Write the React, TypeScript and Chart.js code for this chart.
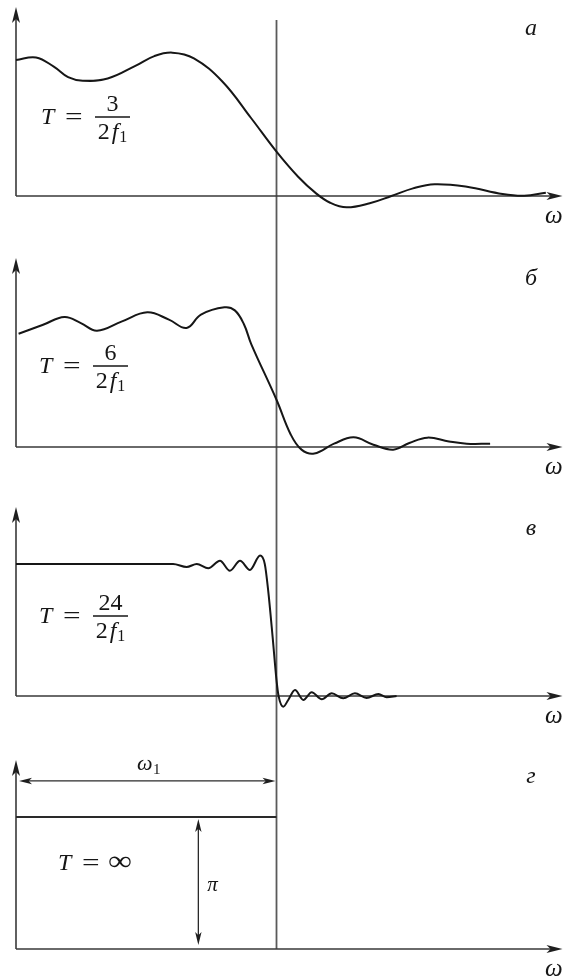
import React, { useEffect, useRef } from 'react';
import { Chart, registerables } from 'chart.js';

Chart.register(...registerables);

// ---- data (x in units of ω1, y in units of the ideal level π) ----
const panelLetters = ['а', 'б', 'в', 'г'];
const numerators = ['3', '6', '24', ''];

const omegaA = [0, 0.077, 0.145, 0.2, 0.256, 0.352, 0.462, 0.531, 0.6, 0.683, 0.793, 0.903, 1.0, 1.083, 1.152, 1.206, 1.269, 1.358, 1.441, 1.524, 1.607, 1.731, 1.868, 1.951, 2.034];
const ampA = [1.03, 1.05, 0.98, 0.9, 0.873, 0.89, 0.99, 1.06, 1.086, 1.043, 0.866, 0.589, 0.336, 0.146, 0.02, -0.051, -0.086, -0.055, 0, 0.058, 0.089, 0.07, 0.015, 0.002, 0.025];

const omegaB = [0.01, 0.104, 0.186, 0.249, 0.311, 0.407, 0.504, 0.587, 0.655, 0.71, 0.8, 0.84, 0.875, 0.903, 1.0, 1.055, 1.096, 1.145, 1.221, 1.296, 1.372, 1.448, 1.51, 1.579, 1.662, 1.73, 1.82];
const ampB = [0.858, 0.926, 0.985, 0.939, 0.881, 0.952, 1.02, 0.965, 0.902, 1.003, 1.058, 1.035, 0.93, 0.78, 0.358, 0.093, -0.02, -0.05, 0.025, 0.073, 0.017, -0.02, 0.03, 0.071, 0.042, 0.025, 0.025];

const omegaV = [0, 0.603, 0.655, 0.694, 0.738, 0.783, 0.821, 0.86, 0.898, 0.937, 0.955, 0.968, 0.985, 1.0, 1.008, 1.026, 1.045, 1.071, 1.103, 1.135, 1.174, 1.212, 1.256, 1.301, 1.346, 1.391, 1.423, 1.461];
const ampV = [1.0, 1.0, 0.977, 1.0, 0.967, 1.025, 0.949, 1.025, 0.955, 1.064, 1.0, 0.8, 0.45, 0.12, 0, -0.081, -0.03, 0.045, -0.03, 0.028, -0.025, 0.02, -0.017, 0.02, -0.015, 0.015, -0.01, 0];

const omegaG = [0, 1];
const ampG = [1, 1];

const CUTOFF = 1; // ω1
const PI_ARROW_OMEGA = 0.7;
const OMEGA1_ARROW_LEVEL = 1.273;
const AXIS_TOP = 1.432;

// ---- layout ----
const W = 563;
const PX_X = 260.5;
const PX_Y = 132;
const X0 = 16;
const FONT = '"Liberation Serif", "Times New Roman", serif';
const INK = '#161616';

type Panel = {
  xs: number[];
  ys: number[];
  letter: string;
  num: string;
  height: number;
  axisY: number;
  bar: number;
  tLeft: number;
  vTop: number;
  last: boolean;
  smooth: 'tension' | 'monotone';
};

const panels: Panel[] = [
  { xs: omegaA, ys: ampA, letter: panelLetters[0], num: numerators[0], height: 250, axisY: 196, bar: 117, tLeft: 41, vTop: 20, last: false, smooth: 'tension' },
  { xs: omegaB, ys: ampB, letter: panelLetters[1], num: numerators[1], height: 250, axisY: 197, bar: 116, tLeft: 39, vTop: 0, last: false, smooth: 'tension' },
  { xs: omegaV, ys: ampV, letter: panelLetters[2], num: numerators[2], height: 250, axisY: 196, bar: 116, tLeft: 39, vTop: 0, last: false, smooth: 'monotone' },
  { xs: omegaG, ys: ampG, letter: panelLetters[3], num: numerators[3], height: 227, axisY: 199, bar: 113, tLeft: 58, vTop: 0, last: true, smooth: 'monotone' },
];

function arrowHead(ctx: CanvasRenderingContext2D, tx: number, ty: number, dx: number, dy: number, len: number, half: number) {
  const bx = tx - dx * len;
  const by = ty - dy * len;
  const px = -dy;
  const py = dx;
  ctx.beginPath();
  ctx.moveTo(tx, ty);
  ctx.lineTo(bx + px * half, by + py * half);
  ctx.lineTo(tx - dx * len * 0.75, ty - dy * len * 0.75);
  ctx.lineTo(bx - px * half, by - py * half);
  ctx.closePath();
  ctx.fill();
}

function scaledText(ctx: CanvasRenderingContext2D, text: string, x: number, y: number, sx: number) {
  ctx.save();
  ctx.translate(x, y);
  ctx.scale(sx, 1);
  ctx.fillText(text, 0, 0);
  ctx.restore();
}

function decor(p: Panel) {
  return {
    id: 'decor',
    beforeDatasetsDraw(chart: any) {
      const ctx: CanvasRenderingContext2D = chart.ctx;
      const xs = chart.scales.x;
      const ys = chart.scales.y;
      const ox = xs.getPixelForValue(0);
      const oy = ys.getPixelForValue(0);
      const cx = xs.getPixelForValue(CUTOFF);
      ctx.save();
      // vertical ω1 line
      ctx.strokeStyle = '#5a5a5a';
      ctx.lineWidth = 1.8;
      ctx.beginPath();
      ctx.moveTo(cx, p.vTop);
      ctx.lineTo(cx, p.last ? oy : p.height);
      ctx.stroke();
      // axes
      ctx.strokeStyle = '#3a3a3a';
      ctx.fillStyle = '#1e1e1e';
      ctx.lineWidth = 1.6;
      const tipY = ys.getPixelForValue(AXIS_TOP);
      ctx.beginPath();
      ctx.moveTo(ox, oy);
      ctx.lineTo(ox, tipY + 8);
      ctx.moveTo(ox, oy);
      ctx.lineTo(W - 8, oy);
      ctx.stroke();
      arrowHead(ctx, ox, tipY, 0, -1, 16, 4);
      arrowHead(ctx, W - 0.5, oy, 1, 0, 16, 4);
      ctx.restore();
    },
    afterDatasetsDraw(chart: any) {
      const ctx: CanvasRenderingContext2D = chart.ctx;
      const xs = chart.scales.x;
      const ys = chart.scales.y;
      const oy = ys.getPixelForValue(0);
      ctx.save();
      ctx.fillStyle = INK;
      ctx.textBaseline = 'alphabetic';
      // panel letter
      ctx.font = `italic 24px ${FONT}`;
      ctx.textAlign = 'center';
      ctx.fillText(p.letter, 531, p.last ? 33 : 35);
      // ω axis label
      ctx.font = `italic 25px ${FONT}`;
      ctx.textAlign = 'left';
      ctx.fillText('ω', 545, oy + 27);
      // formula
      const bar = p.bar;
      const L = p.tLeft;
      ctx.font = `italic 24px ${FONT}`;
      ctx.fillText('T', L, bar + 7);
      ctx.font = `24px ${FONT}`;
      scaledText(ctx, '=', L + 24, bar + 7, 1.3);
      if (p.num) {
        const fx0 = L + 54;
        const fx1 = L + 89;
        const fc = (fx0 + fx1) / 2;
        ctx.strokeStyle = INK;
        ctx.lineWidth = 1.5;
        ctx.beginPath();
        ctx.moveTo(fx0, bar);
        ctx.lineTo(fx1, bar);
        ctx.stroke();
        ctx.font = `24px ${FONT}`;
        ctx.textAlign = 'center';
        ctx.fillText(p.num, fc, bar - 6);
        // denominator 2f₁
        ctx.textAlign = 'left';
        ctx.font = `24px ${FONT}`;
        const w2 = ctx.measureText('2').width;
        ctx.font = `italic 24px ${FONT}`;
        const wf = ctx.measureText('f').width;
        ctx.font = `16px ${FONT}`;
        const w1 = ctx.measureText('1').width;
        const total = w2 + 2 + wf + 1 + w1;
        let x = fc - total / 2;
        const db = bar + 22;
        ctx.font = `24px ${FONT}`;
        ctx.fillText('2', x, db);
        x += w2 + 2;
        ctx.font = `italic 24px ${FONT}`;
        ctx.fillText('f', x, db);
        x += wf + 1;
        ctx.font = `16px ${FONT}`;
        ctx.fillText('1', x, db + 3);
      } else {
        ctx.font = `28px ${FONT}`;
        scaledText(ctx, '∞', L + 50, bar + 7, 1.2);
        // ω1 span arrow
        const ax0 = xs.getPixelForValue(0);
        const ax1 = xs.getPixelForValue(CUTOFF);
        const ay = ys.getPixelForValue(OMEGA1_ARROW_LEVEL);
        ctx.strokeStyle = '#2a2a2a';
        ctx.fillStyle = '#1e1e1e';
        ctx.lineWidth = 1.3;
        ctx.beginPath();
        ctx.moveTo(ax0 + 8, ay);
        ctx.lineTo(ax1 - 8, ay);
        ctx.stroke();
        arrowHead(ctx, ax0 + 3, ay, -1, 0, 13, 3.2);
        arrowHead(ctx, ax1 - 1, ay, 1, 0, 13, 3.2);
        ctx.fillStyle = INK;
        ctx.font = `italic 22px ${FONT}`;
        ctx.textAlign = 'left';
        ctx.fillText('ω', 137, ay - 11);
        ctx.font = `15px ${FONT}`;
        ctx.fillText('1', 153, ay - 7);
        // π height arrow
        const px = xs.getPixelForValue(PI_ARROW_OMEGA);
        const py0 = ys.getPixelForValue(1);
        const py1 = ys.getPixelForValue(0);
        ctx.strokeStyle = '#2a2a2a';
        ctx.fillStyle = '#1e1e1e';
        ctx.beginPath();
        ctx.moveTo(px, py0 + 9);
        ctx.lineTo(px, py1 - 9);
        ctx.stroke();
        arrowHead(ctx, px, py0 + 2, 0, -1, 13, 3.2);
        arrowHead(ctx, px, py1 - 4, 0, 1, 13, 3.2);
        ctx.fillStyle = INK;
        ctx.font = `italic 21px ${FONT}`;
        ctx.fillText('π', px + 9, (py0 + py1) / 2 + 8);
      }
      ctx.restore();
    },
  };
}

function PanelChart({ p }: { p: Panel }) {
  const ref = useRef<HTMLCanvasElement | null>(null);
  useEffect(() => {
    if (!ref.current) return;
    const ds: any = {
      data: p.xs.map((x, i) => ({ x, y: p.ys[i] })),
      borderColor: p.last ? '#2a2a2a' : INK,
      borderWidth: p.last ? 2.2 : 2,
      pointRadius: 0,
      fill: false,
    };
    if (p.smooth === 'monotone') ds.cubicInterpolationMode = 'monotone';
    else ds.tension = 0.4;
    const chart = new Chart(ref.current, {
      type: 'line',
      data: { datasets: [ds] },
      options: {
        animation: false,
        responsive: false,
        events: [],
        layout: { padding: 0 },
        plugins: { legend: { display: false }, tooltip: { enabled: false } },
        scales: {
          x: { type: 'linear', display: false, min: -X0 / PX_X, max: (W - X0) / PX_X },
          y: { type: 'linear', display: false, min: -(p.height - p.axisY) / PX_Y, max: p.axisY / PX_Y },
        },
      },
      plugins: [decor(p)],
    } as any);
    return () => chart.destroy();
  }, [p]);
  return <canvas ref={ref} width={W} height={p.height} style={{ display: 'block', width: W, height: p.height }} />;
}

export default function App() {
  return (
    <div style={{ position: 'absolute', left: 0, top: 0, width: W, background: '#fff' }}>
      {panels.map((p, i) => (
        <PanelChart key={i} p={p} />
      ))}
    </div>
  );
}
